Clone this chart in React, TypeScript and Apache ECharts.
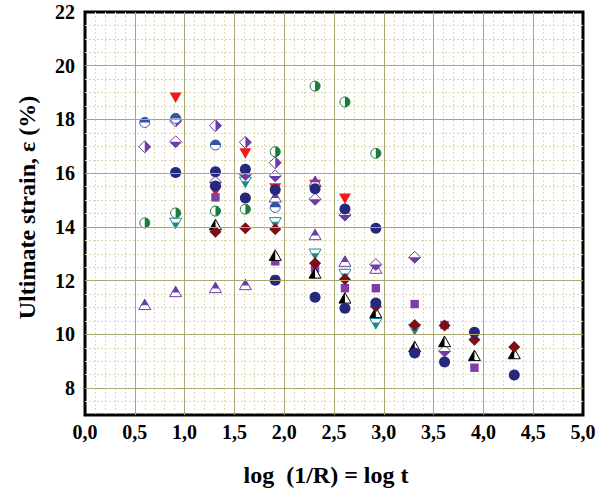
import { useEffect, useRef } from 'react';
import * as echarts from 'echarts';

type Pt = [number, number];

// Axis ranges and tick labels
const X_MIN = 0;
const X_MAX = 5;
const X_STEP = 0.5;
const Y_MIN = 7;
const Y_MAX = 22;
const yTickLabels = [8, 10, 12, 14, 16, 18, 20, 22];
const yMajorGrid = [8, 10, 12, 14, 16, 18, 20];

// Measured points: [log t, ultimate strain (%)]
const navyCircles: Pt[] = [
  [0.91, 16.03], [1.31, 16.05], [1.31, 15.52], [1.61, 16.15], [1.61, 15.08],
  [1.91, 15.38], [1.91, 12.02], [2.31, 15.42], [2.31, 11.38], [2.61, 14.67],
  [2.61, 10.97], [2.92, 13.95], [2.92, 11.17], [3.31, 9.31], [3.61, 8.97],
  [3.91, 10.08], [4.31, 8.49],
];
const darkRedDiamonds: Pt[] = [
  [1.31, 13.82], [1.61, 13.95], [1.91, 13.91], [2.31, 12.65], [2.61, 12.05],
  [2.92, 11.05], [3.31, 10.35], [3.61, 10.33], [3.91, 9.8], [4.31, 9.53],
];
const purpleSquares: Pt[] = [
  [1.31, 15.1], [1.91, 12.72], [2.31, 12.46], [2.61, 11.72], [2.92, 11.72],
  [3.31, 11.13], [3.61, 10.35], [3.91, 8.76],
];
const blackHalfTriangles: Pt[] = [
  [1.31, 14.07], [1.91, 12.93], [2.31, 12.27], [2.61, 11.34], [2.92, 10.8],
  [3.31, 9.53], [3.61, 9.72], [3.91, 9.2], [4.31, 9.27],
];
const redTriangles: Pt[] = [
  [0.91, 18.83], [1.31, 15.35], [1.61, 16.75], [1.91, 15.45], [2.31, 15.58],
  [2.61, 15.07],
];
const tealTriangles: Pt[] = [
  [0.91, 14.15], [1.61, 15.68], [1.91, 14.17], [2.31, 13.0], [2.61, 12.25],
  [2.92, 10.42], [3.31, 10.2],
];
const greenHalfCircles: Pt[] = [
  [0.6, 14.15], [0.91, 14.52], [1.31, 14.59], [1.61, 14.66], [1.91, 16.8],
  [2.31, 19.24], [2.61, 18.65], [2.92, 16.74],
];
const blueHalfCircles: Pt[] = [
  [0.6, 17.89], [0.91, 18.04], [1.31, 17.05], [1.91, 14.73],
];
const purpleHalfDiamonds: Pt[] = [
  [0.6, 16.98], [0.91, 17.94], [1.31, 17.77], [1.61, 17.15], [1.91, 16.39],
];
const purpleLowerDiamonds: Pt[] = [
  [0.91, 17.17], [1.31, 15.67], [1.61, 15.95], [1.91, 15.9], [2.31, 15.03],
  [2.61, 14.44], [2.92, 12.6], [3.31, 12.87], [3.61, 9.38],
];
const purpleTriangles: Pt[] = [
  [0.6, 11.1], [0.91, 11.58], [1.31, 11.73], [1.61, 11.84], [1.91, 15.1],
  [2.31, 15.68], [2.31, 13.7], [2.61, 12.71], [2.92, 12.45],
];

const FONT = '"Liberation Serif", "Times New Roman", serif';
const MAJOR = '#ADA872';
const MINOR = '#DDD8B4';

const NAVY = '#25297B';
const DARK_RED = '#7C1014';
const SQUARE_PURPLE = '#7D3FA4';
const PURPLE = '#6C3CA4';
const BLUE = '#3354A8';
const GREEN = '#1D7A3B';
const TEAL = '#1A8A8C';
const RED = '#F0191E';
const BLACK = '#000000';

// Marker geometry (pixels)
const R = 5;
const D = 6;
const TW = 6;
const TH = 10.5;

type Draw = (cx: number, cy: number) => any[];

const outline = (color: string) => ({ fill: '#ffffff', stroke: color, lineWidth: 1 });

const circleFull = (color: string): Draw => (cx, cy) => [
  { type: 'circle', shape: { cx, cy, r: R + 0.5 }, style: { fill: color } },
];

const circleHalf = (color: string, start: number, end: number): Draw => (cx, cy) => [
  { type: 'circle', shape: { cx, cy, r: R }, style: outline(color) },
  {
    type: 'sector',
    shape: { cx, cy, r0: 0, r: R, startAngle: start, endAngle: end, clockwise: true },
    style: { fill: color },
  },
];

const diamondPts = (cx: number, cy: number) => [
  [cx, cy - D], [cx + D, cy], [cx, cy + D], [cx - D, cy],
];

const diamondFull = (color: string): Draw => (cx, cy) => [
  { type: 'polygon', shape: { points: diamondPts(cx, cy) }, style: { fill: color } },
];

const diamondRight = (color: string): Draw => (cx, cy) => [
  { type: 'polygon', shape: { points: diamondPts(cx, cy) }, style: outline(color) },
  { type: 'polygon', shape: { points: [[cx, cy - D], [cx + D, cy], [cx, cy + D]] }, style: { fill: color } },
];

const diamondLower = (color: string): Draw => (cx, cy) => [
  { type: 'polygon', shape: { points: diamondPts(cx, cy) }, style: outline(color) },
  { type: 'polygon', shape: { points: [[cx - D, cy], [cx + D, cy], [cx, cy + D]] }, style: { fill: color } },
];

const upPts = (cx: number, cy: number) => {
  const top = cy - TH * 0.55;
  const base = cy + TH * 0.45;
  return { top, base, pts: [[cx, top], [cx + TW, base], [cx - TW, base]] };
};

const triUpTop = (color: string, f: number): Draw => (cx, cy) => {
  const { top, pts } = upPts(cx, cy);
  const y = top + TH * f;
  return [
    { type: 'polygon', shape: { points: pts }, style: outline(color) },
    { type: 'polygon', shape: { points: [[cx, top], [cx + TW * f, y], [cx - TW * f, y]] }, style: { fill: color } },
  ];
};

const triUpLeft = (color: string): Draw => (cx, cy) => {
  const { top, base, pts } = upPts(cx, cy);
  return [
    { type: 'polygon', shape: { points: pts }, style: outline(color) },
    { type: 'polygon', shape: { points: [[cx, top], [cx, base], [cx - TW, base]] }, style: { fill: color } },
  ];
};

const downPts = (cx: number, cy: number) => {
  const top = cy - TH * 0.45;
  const tip = cy + TH * 0.55;
  return { top, tip, pts: [[cx - TW, top], [cx + TW, top], [cx, tip]] };
};

const triDownFull = (color: string): Draw => (cx, cy) => [
  { type: 'polygon', shape: { points: downPts(cx, cy).pts }, style: { fill: color } },
];

const triDownLower = (color: string, f: number): Draw => (cx, cy) => {
  const { top, tip, pts } = downPts(cx, cy);
  const y = top + TH * f;
  const w = TW * (1 - f);
  return [
    { type: 'polygon', shape: { points: pts }, style: outline(color) },
    { type: 'polygon', shape: { points: [[cx - w, y], [cx + w, y], [cx, tip]] }, style: { fill: color } },
  ];
};

const squareFull = (color: string): Draw => (cx, cy) => [
  { type: 'rect', shape: { x: cx - 4.2, y: cy - 4.2, width: 8.4, height: 8.4 }, style: { fill: color } },
];

const markerSeries = (name: string, data: Pt[], draw: Draw) => ({
  type: 'custom',
  name,
  data,
  z: 3,
  encode: { x: 0, y: 1 },
  silent: true,
  renderItem: (_params: any, api: any) => {
    const [cx, cy] = api.coord([api.value(0), api.value(1)]);
    return { type: 'group', children: draw(cx, cy) };
  },
});

const labelStyle = {
  fontFamily: FONT,
  fontWeight: 'bold' as const,
  fontSize: 20,
  color: '#000',
};

const option: any = {
  animation: false,
  backgroundColor: '#ffffff',
  grid: {
    left: 85,
    right: 23,
    top: 12,
    bottom: 84,
    show: true,
    borderColor: '#000',
    borderWidth: 3,
    backgroundColor: '#ffffff',
    containLabel: false,
    outerBoundsMode: 'none',
  },
  xAxis: {
    type: 'value',
    min: X_MIN,
    max: X_MAX,
    interval: X_STEP,
    name: 'log\u00a0 (1/R) = log t',
    nameLocation: 'middle',
    nameGap: 48,
    nameTextStyle: { ...labelStyle, fontSize: 24, padding: [0, 16, 0, 0] },
    axisLine: { show: false },
    axisTick: { show: false },
    axisLabel: {
      ...labelStyle,
      margin: 7,
      formatter: (v: number) => v.toFixed(1).replace('.', ','),
    },
    splitLine: {
      show: true,
      showMinLine: false,
      showMaxLine: false,
      lineStyle: { color: MAJOR, width: 1 },
    },
    minorTick: { show: false, splitNumber: 5 },
    minorSplitLine: { show: true, lineStyle: { color: MINOR, width: 1, type: [2, 2] } },
  },
  yAxis: {
    type: 'value',
    min: Y_MIN,
    max: Y_MAX,
    interval: 0.5,
    name: 'Ultimate strain, ε (%)',
    nameLocation: 'middle',
    nameGap: 46,
    nameTextStyle: { ...labelStyle, fontSize: 24, padding: [0, 0, 0, 12] },
    axisLine: { show: false },
    axisTick: { show: false },
    axisLabel: {
      ...labelStyle,
      margin: 10,
      formatter: (v: number) =>
        yTickLabels.some((t) => Math.abs(t - v) < 1e-6) ? String(Math.round(v)) : '',
    },
    splitLine: {
      show: true,
      showMinLine: false,
      showMaxLine: false,
      lineStyle: { color: MINOR, width: 1, type: [2, 2] },
    },
  },
  series: [
    {
      // carries the solid major horizontal grid lines
      type: 'scatter',
      data: [],
      z: 1,
      silent: true,
      markLine: {
        silent: true,
        animation: false,
        symbol: ['none', 'none'],
        label: { show: false },
        emphasis: { disabled: true },
        lineStyle: { color: MAJOR, type: 'solid', width: 1 },
        data: yMajorGrid.map((v) => ({ yAxis: v })),
      },
    },
    markerSeries('red', redTriangles, triDownFull(RED)),
    markerSeries('teal', tealTriangles, triDownLower(TEAL, 0.4)),
    markerSeries('purpleTri', purpleTriangles, triUpTop(PURPLE, 0.6)),
    markerSeries('purpleLower', purpleLowerDiamonds, diamondLower(PURPLE)),
    markerSeries('purpleHalf', purpleHalfDiamonds, diamondRight(PURPLE)),
    markerSeries('blueHalf', blueHalfCircles, circleHalf(BLUE, Math.PI, Math.PI * 2)),
    markerSeries('greenHalf', greenHalfCircles, circleHalf(GREEN, -Math.PI / 2, Math.PI / 2)),
    markerSeries('square', purpleSquares, squareFull(SQUARE_PURPLE)),
    markerSeries('blackHalf', blackHalfTriangles, triUpLeft(BLACK)),
    markerSeries('darkRed', darkRedDiamonds, diamondFull(DARK_RED)),
    markerSeries('navy', navyCircles, circleFull(NAVY)),
  ],
};

export default function App() {
  const ref = useRef<HTMLDivElement>(null);

  useEffect(() => {
    if (!ref.current) return;
    const chart = echarts.init(ref.current, undefined, { renderer: 'svg' });
    chart.setOption(option);
    return () => chart.dispose();
  }, []);

  return (
    <div
      ref={ref}
      style={{ position: 'fixed', left: 0, top: 0, width: 606, height: 499, background: '#fff' }}
    />
  );
}
